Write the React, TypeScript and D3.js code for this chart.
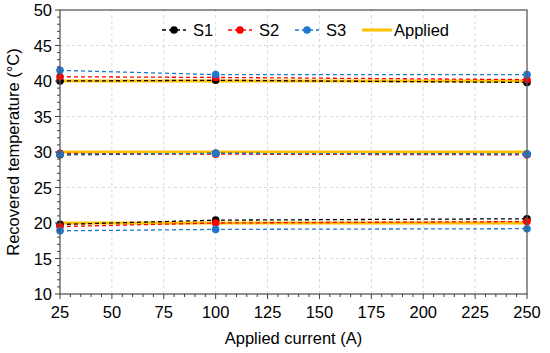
import * as d3 from 'd3';

const currents = [25, 100, 250];
const levels = [40, 30, 20];

// recovered temperature per level (40, 30, 20 °C), one value per current
const s1 = [
  [40.0, 40.1, 39.8],
  [29.6, 29.8, 29.7],
  [19.8, 20.4, 20.6],
];
const s2 = [
  [40.6, 40.5, 40.2],
  [29.8, 29.7, 29.6],
  [19.5, 20.0, 20.2],
];
const s3 = [
  [41.5, 40.9, 40.9],
  [29.7, 29.8, 29.7],
  [18.9, 19.1, 19.2],
];

const xTicks = [25, 50, 75, 100, 125, 150, 175, 200, 225, 250];
const yTicks = [10, 15, 20, 25, 30, 35, 40, 45, 50];

const series = [
  { name: 'S1', color: '#000000', data: s1 },
  { name: 'S2', color: '#FF0000', data: s2 },
  { name: 'S3', color: '#1F78CF', data: s3 },
];
const appliedColor = '#FFC000';

const W = 550;
const H = 353;
const margin = { top: 10, right: 23, bottom: 59, left: 60 };
const font = '"Liberation Sans", Arial, sans-serif';
const fs = 16.5;

export default function App() {
  const x = d3.scaleLinear().domain([25, 250]).range([margin.left, W - margin.right]);
  const y = d3.scaleLinear().domain([10, 50]).range([H - margin.bottom, margin.top]);

  const line = d3
    .line<number>()
    .x((_, i) => x(currents[i]))
    .y((d) => y(d));

  const x0 = x.range()[0];
  const x1 = x.range()[1];
  const y0 = y.range()[0];
  const y1 = y.range()[1];

  const xMinor = d3.range(25, 251, 5).filter((v) => !xTicks.includes(v));
  const yMinor = d3.range(10, 51, 1).filter((v) => !yTicks.includes(v));

  const legendY = 30;
  const legend = [
    { name: 'S1', color: series[0].color, lx: 162, marker: true },
    { name: 'S2', color: series[1].color, lx: 228, marker: true },
    { name: 'S3', color: series[2].color, lx: 295, marker: true },
    { name: 'Applied', color: appliedColor, lx: 362, marker: false },
  ];

  return (
    <svg width={W} height={H} style={{ position: 'absolute', left: 0, top: 0, background: '#fff' }}>
      {/* grid */}
      <g stroke="#d9d9d9" strokeWidth={1} strokeDasharray="3,3">
        {xTicks.slice(1, -1).map((t) => (
          <line key={'gx' + t} x1={x(t)} x2={x(t)} y1={y0} y2={y1} />
        ))}
        {yTicks.slice(1, -1).map((t) => (
          <line key={'gy' + t} x1={x0} x2={x1} y1={y(t)} y2={y(t)} />
        ))}
      </g>

      {/* applied lines */}
      {levels.map((lv) => (
        <path
          key={'ap' + lv}
          d={line(currents.map(() => lv)) || ''}
          fill="none"
          stroke={appliedColor}
          strokeWidth={3}
        />
      ))}

      {/* measured series */}
      {series.map((s) => (
        <g key={s.name}>
          {s.data.map((vals, li) => (
            <g key={li}>
              <path
                d={line(vals) || ''}
                fill="none"
                stroke={s.color}
                strokeWidth={1.3}
                strokeDasharray="4,3"
              />
              {vals.map((v, i) => (
                <circle key={i} cx={x(currents[i])} cy={y(v)} r={3.8} fill={s.color} />
              ))}
            </g>
          ))}
        </g>
      ))}

      {/* frame */}
      <rect x={x0} y={y1} width={x1 - x0} height={y0 - y1} fill="none" stroke="#595959" strokeWidth={1.3} />

      {/* ticks */}
      <g stroke="#404040" strokeWidth={1}>
        {xTicks.map((t) => (
          <line key={'xt' + t} x1={x(t)} x2={x(t)} y1={y0} y2={y0 + 5} />
        ))}
        {xMinor.map((t) => (
          <line key={'xm' + t} x1={x(t)} x2={x(t)} y1={y0} y2={y0 + 3} />
        ))}
        {yTicks.map((t) => (
          <line key={'yt' + t} x1={x0 - 5} x2={x0} y1={y(t)} y2={y(t)} />
        ))}
        {yMinor.map((t) => (
          <line key={'ym' + t} x1={x0 - 3} x2={x0} y1={y(t)} y2={y(t)} />
        ))}
      </g>

      {/* tick labels */}
      <g fontFamily={font} fontSize={fs} fill="#000">
        {xTicks.map((t) => (
          <text key={'xl' + t} x={x(t)} y={y0 + 24} textAnchor="middle">
            {t}
          </text>
        ))}
        {yTicks.map((t) => (
          <text key={'yl' + t} x={x0 - 8} y={y(t) + 6} textAnchor="end">
            {t}
          </text>
        ))}
      </g>

      {/* axis titles */}
      <text x={(x0 + x1) / 2} y={H - 9} textAnchor="middle" fontFamily={font} fontSize={fs}>
        Applied current (A)
      </text>
      <text
        transform={`translate(19,${(y0 + y1) / 2}) rotate(-90)`}
        textAnchor="middle"
        fontFamily={font}
        fontSize={fs}
      >
        Recovered temperature (°C)
      </text>

      {/* legend */}
      <g fontFamily={font} fontSize={fs}>
        {legend.map((l) => (
          <g key={l.name}>
            {l.marker ? (
              <>
                <line
                  x1={l.lx}
                  x2={l.lx + 24}
                  y1={legendY}
                  y2={legendY}
                  stroke={l.color}
                  strokeWidth={1.3}
                  strokeDasharray="4,3"
                />
                <circle cx={l.lx + 12} cy={legendY} r={3.8} fill={l.color} />
                <text x={l.lx + 31} y={legendY + 6}>
                  {l.name}
                </text>
              </>
            ) : (
              <>
                <line x1={l.lx} x2={l.lx + 30} y1={legendY} y2={legendY} stroke={l.color} strokeWidth={3} />
                <text x={l.lx + 32} y={legendY + 6}>
                  {l.name}
                </text>
              </>
            )}
          </g>
        ))}
      </g>
    </svg>
  );
}
